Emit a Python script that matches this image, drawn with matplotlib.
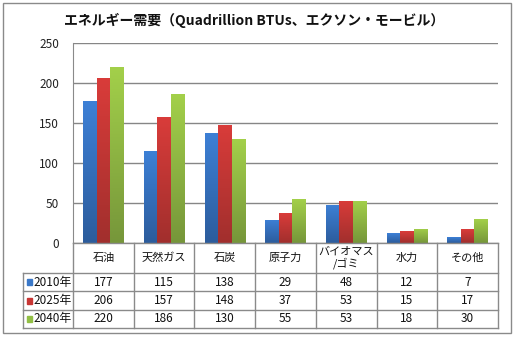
import matplotlib
matplotlib.use("Agg")
import matplotlib.pyplot as plt
import numpy as np
from matplotlib.colors import LinearSegmentedColormap
from matplotlib.patches import Rectangle

plt.rcParams["font.family"] = ["Noto Sans CJK JP", "DejaVu Sans"]

categories = ["石油", "天然ガス", "石炭", "原子力", "バイオマス\n/ゴミ", "水力", "その他"]
years = ["2010年", "2025年", "2040年"]
demand_2010 = [177, 115, 138, 29, 48, 12, 7]
demand_2025 = [206, 157, 148, 37, 53, 15, 17]
demand_2040 = [220, 186, 130, 55, 53, 18, 30]
series = [demand_2010, demand_2025, demand_2040]

# (top, bottom) shade of each series gradient
shades = [("#3d80d6", "#2c5c9c"), ("#d93c3a", "#a12f2d"), ("#a3d04a", "#76963a")]
swatch = ["#3a78c8", "#c83634", "#92bf45"]

W, H = 515, 337
fig = plt.figure(figsize=(W / 100, H / 100), dpi=100)

grid_c = "#868686"
line_c = "#8a8a8a"

# chart area in pixel terms
left, right, top, base, tbl_bottom = 73, 498, 43, 243, 328

ax = fig.add_axes([left / W, (H - base) / H, (right - left) / W, (base - top) / H])
x = np.arange(len(categories))
bw = 1 / 4.5
for i, vals in enumerate(series):
    bars = ax.bar(x + (i - 1) * bw, vals, bw, color=swatch[i], zorder=2, linewidth=0)
    cmap = LinearSegmentedColormap.from_list("g%d" % i, [shades[i][1], shades[i][0]])
    grad = np.linspace(0, 1, 256).reshape(-1, 1)
    for rect in bars:
        x0, w, h = rect.get_x(), rect.get_width(), rect.get_height()
        im = ax.imshow(grad, extent=[x0, x0 + w, 0, h], origin="lower",
                       aspect="auto", cmap=cmap, zorder=3)
        im.set_clip_path(rect)

ax.set_xlim(-0.5, len(categories) - 0.5)
ax.set_ylim(0, 250)
ax.set_yticks(range(0, 251, 50))
ax.set_xticks([])
ax.yaxis.grid(True, color=grid_c, linewidth=1)
ax.set_axisbelow(True)
ax.tick_params(axis="y", length=0, pad=10, labelsize=8.5, labelcolor="#222222")
for s in ["top", "right", "bottom"]:
    ax.spines[s].set_visible(False)
ax.spines["left"].set_color(line_c)

# data table under the bars
tax = fig.add_axes([left / W, (H - tbl_bottom) / H, (right - left) / W, (tbl_bottom - base) / H])
tax.set_xlim(-0.5, len(categories) - 0.5)
tax.set_ylim(0, tbl_bottom - base)
tax.axis("off")
px = len(categories) / (right - left)
lab_left = -0.5 - 50 * px
row_h = (tbl_bottom - base - 30) / 3
row_edges = [tbl_bottom - base - 30 - k * row_h for k in range(4)]
kw = dict(color=line_c, linewidth=1, clip_on=False)
tax.plot([-0.5, len(categories) - 0.5], [tbl_bottom - base] * 2, **kw)
for yv in row_edges:
    tax.plot([lab_left, len(categories) - 0.5], [yv, yv], **kw)
for k in range(len(categories) + 1):
    tax.plot([k - 0.5, k - 0.5], [0, tbl_bottom - base], **kw)
tax.plot([lab_left, lab_left], [0, row_edges[0]], **kw)

cat_mid = tbl_bottom - base - 15
for k, name in enumerate(categories):
    tax.text(k, cat_mid, name, ha="center", va="center", fontsize=8,
             linespacing=1.1, color="#111111")
for i, vals in enumerate(series):
    ym = row_edges[i] - row_h / 2
    tax.add_patch(Rectangle((lab_left + 3.5 * px, ym - 3), 5.5 * px, 6,
                            color=swatch[i], clip_on=False))
    tax.text(lab_left + 10 * px, ym, years[i], ha="left", va="center",
             fontsize=8.5, color="#111111")
    for k, v in enumerate(vals):
        tax.text(k, ym, str(v), ha="center", va="center", fontsize=8.5,
                 color="#111111")

fig.text(254 / W, 1 - 20 / H, "エネルギー需要（Quadrillion BTUs、エクソン・モービル）",
         ha="center", va="center", fontsize=10, fontweight="bold", color="#111111")

# outer frame
fig.add_artist(Rectangle((3 / W, 4 / H), 508 / W, 330 / H, transform=fig.transFigure,
                         fill=False, edgecolor=line_c, linewidth=1))

fig.savefig("out.png", dpi=100)
